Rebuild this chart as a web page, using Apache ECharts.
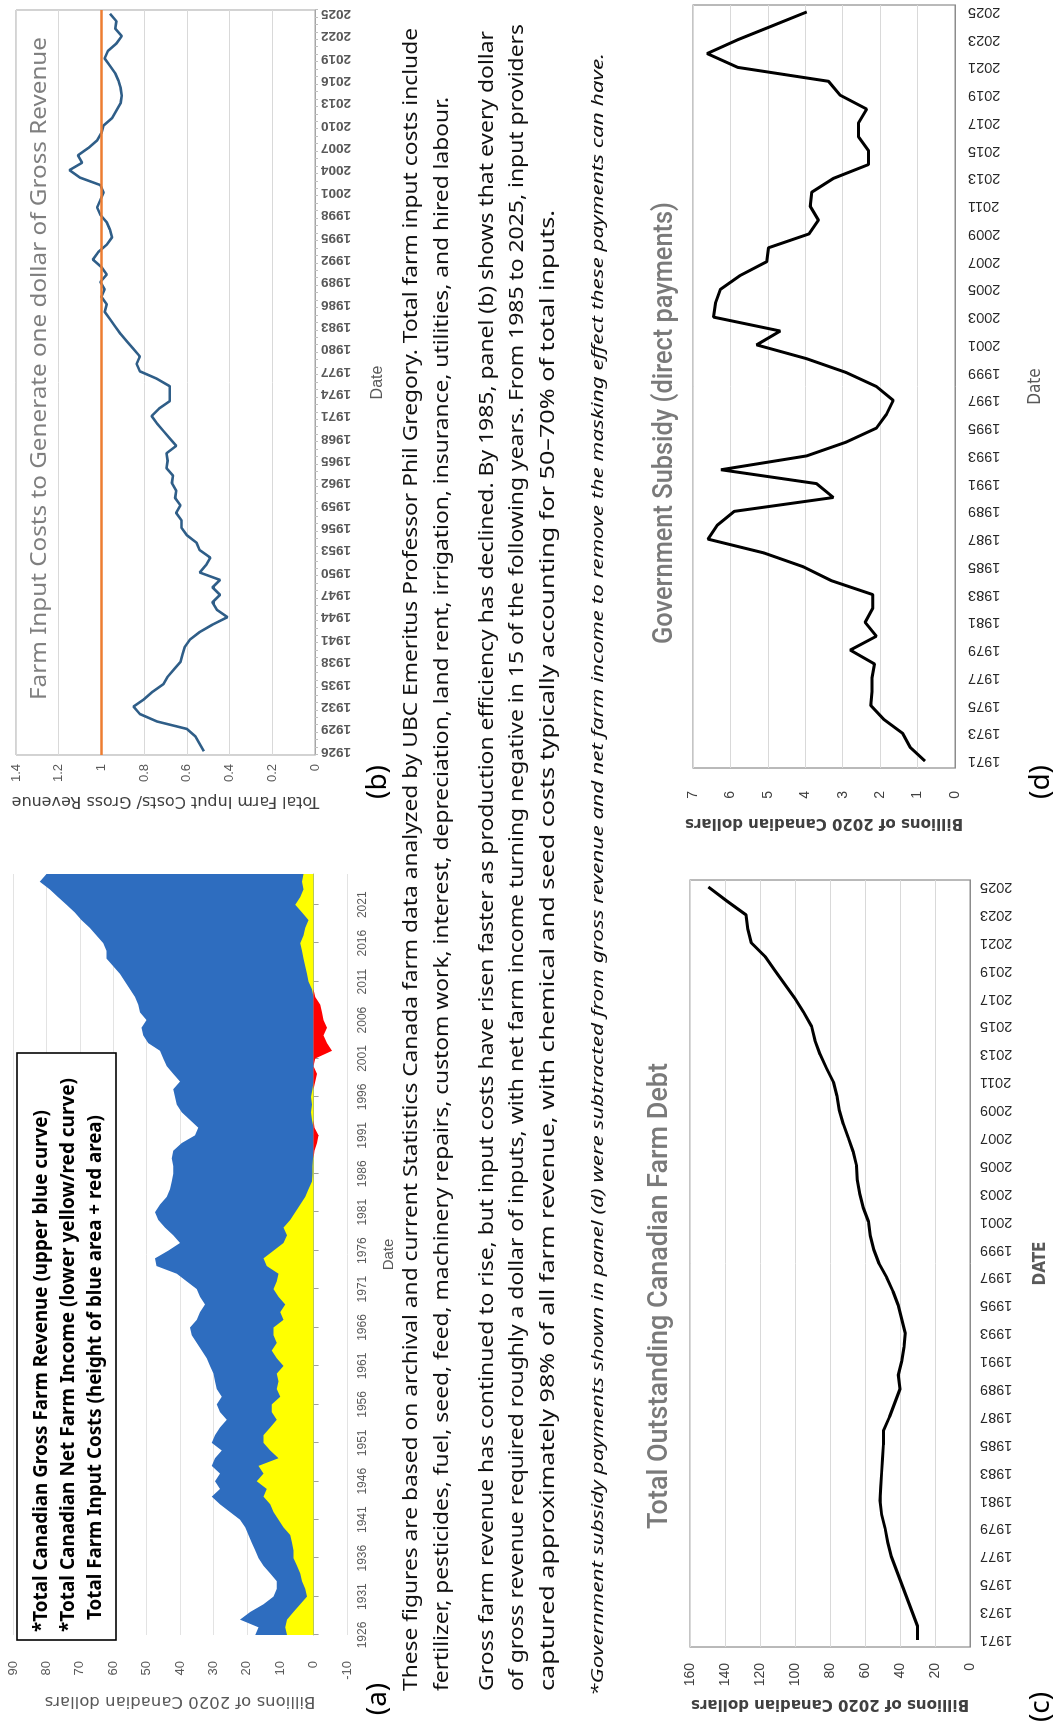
<!DOCTYPE html>
<html>
<head>
<meta charset="utf-8">
<script src="https://cdn.jsdelivr.net/npm/echarts/dist/echarts.min.js"></script>
<style>
  html, body { margin: 0; padding: 0; background: #fff; overflow: hidden; width: 1053px; height: 1732px; }
  /* The sheet is laid out in landscape and turned a quarter turn to fit the portrait page */
  #page { position: absolute; left: 0; top: 0; width: 1732px; height: 1053px;
          transform-origin: 0 0; transform: translate(0, 1732px) rotate(-90deg); background: #fff; }
  #chart { position: absolute; left: 0; top: 0; width: 1732px; height: 1053px; }
  #notes { position: absolute; left: 0; top: 0; width: 1732px; height: 1053px; pointer-events: none; }
</style>
</head>
<body>
<div id="page">
  <div id="chart"></div>
  <svg id="notes" xmlns="http://www.w3.org/2000/svg" width="1732" height="1053" viewBox="0 0 1732 1053">
    <!-- legend box of panel (a) -->
    <rect x="92" y="17" width="587" height="99" fill="#fff" stroke="#000" stroke-width="1.6"/>
    <g font-family="'Noto Sans', 'Open Sans', sans-serif" font-weight="bold" font-size="19" fill="#000">
      <text x="100" y="47" textLength="522" lengthAdjust="spacingAndGlyphs">*Total Canadian Gross Farm Revenue (upper blue curve)</text>
      <text x="100" y="74" textLength="554" lengthAdjust="spacingAndGlyphs">*Total Canadian Net Farm Income (lower yellow/red curve)</text>
      <text x="112" y="101" textLength="505" lengthAdjust="spacingAndGlyphs">Total Farm Input Costs (height of blue area + red area)</text>
    </g>

    <!-- panel letters -->
    <g font-family="'Noto Sans', sans-serif" font-size="28" fill="#000" text-anchor="middle">
      <text x="33" y="386">(a)</text>
      <text x="950" y="386">(b)</text>
      <text x="25" y="1049">(c)</text>
      <text x="950" y="1049">(d)</text>
    </g>

    <!-- panel titles -->
    <g font-family="'Noto Sans', sans-serif" fill="#7f7f7f">
      <text x="1032" y="46" font-size="22" textLength="663" lengthAdjust="spacingAndGlyphs">Farm Input Costs to Generate one dollar of Gross Revenue</text>
    </g>
    <g font-family="'Roboto', 'Noto Sans', sans-serif" font-weight="500" fill="#7a7a7a">
      <text x="203" y="667" font-size="27" textLength="466" lengthAdjust="spacingAndGlyphs">Total Outstanding Canadian Farm Debt</text>
      <text x="1088" y="672" font-size="27" textLength="442" lengthAdjust="spacingAndGlyphs">Government Subsidy (direct payments)</text>
    </g>

    <!-- explanatory notes -->
    <g font-family="'Noto Sans', 'Open Sans', sans-serif" font-size="19.5" fill="#111">
      <text x="41" y="417" textLength="1663" lengthAdjust="spacingAndGlyphs">These figures are based on archival and current Statistics Canada farm data analyzed by UBC Emeritus Professor Phil Gregory. Total farm input costs include</text>
      <text x="41" y="448" textLength="1594" lengthAdjust="spacingAndGlyphs">fertilizer, pesticides, fuel, seed, feed, machinery repairs, custom work, interest, depreciation, land rent, irrigation, insurance, utilities, and hired labour.</text>
      <text x="41" y="493" textLength="1660" lengthAdjust="spacingAndGlyphs">Gross farm revenue has continued to rise, but input costs have risen faster as production efficiency has declined. By 1985, panel (b) shows that every dollar</text>
      <text x="41" y="523" textLength="1667" lengthAdjust="spacingAndGlyphs">of gross revenue required roughly a dollar of inputs, with net farm income turning negative in 15 of the following years. From 1985 to 2025, input providers</text>
      <text x="41" y="554" textLength="1481" lengthAdjust="spacingAndGlyphs">captured approximately 98% of all farm revenue, with chemical and seed costs typically accounting for 50–70% of total inputs.</text>
      <text x="36" y="603" font-size="16.5" font-style="italic" textLength="1643" lengthAdjust="spacingAndGlyphs">*Government subsidy payments shown in panel (d) were subtracted from gross revenue and net farm income to remove the masking effect these payments can have.</text>
    </g>
  </svg>
</div>

<script>
// ---- Panel (a): Canadian gross farm revenue and net farm income, billions of 2020 CAD ----
const yearsA = [];
for (let y = 1926; y <= 2025; y++) yearsA.push(String(y));

const grossRevenue = [
  17.5, 16.5, 22, 19, 15, 12, 11, 11, 13, 15,            // 1926-1935
  16.5, 17.5, 18.5, 19.5, 20.5, 22, 25, 28, 30.5, 28,    // 1936-1945
  29.5, 28, 30.5, 29.5, 27.5, 30.5, 29.5, 28, 26, 28,    // 1946-1955
  29, 27.5, 29, 29.5, 30, 31, 32, 33.5, 35, 36.5,        // 1956-1965
  37, 35, 34, 32.5, 34, 35, 38, 41, 47, 47.5,            // 1966-1975
  43.5, 40, 42, 44.5, 46.5, 47.5, 46, 44, 43, 42.5,      // 1976-1985
  42, 42, 42.5, 42, 39.5, 35.5, 34.5, 37, 39.5, 41,      // 1986-1995
  41.5, 42, 40, 42, 44, 45, 46, 49.5, 51, 51.5,          // 1996-2005
  50, 52, 52.5, 53.5, 55, 56.5, 58, 60, 62, 62,          // 2006-2015
  63, 65, 67, 69.5, 71.5, 74, 76.5, 79, 82, 80           // 2016-2025
];

const netIncome = [
  8, 8.5, 8, 6, 4, 2, 2.5, 3.5, 4, 5,                    // 1926-1935
  6, 6, 6.5, 7, 9, 10.5, 12, 13, 15, 14,                 // 1936-1945
  17, 15, 16.5, 10.5, 13, 15, 15, 13, 11, 12.5,          // 1946-1955
  12.5, 10, 11, 10.5, 11, 9, 11, 12.5, 11, 12,           // 1956-1965
  12, 9, 10, 8.5, 10.5, 12, 11, 10.5, 14, 15,            // 1966-1975
  12, 9, 8, 9, 7, 5.5, 4, 2.5, 1.5, 0.5,                 // 1976-1985
  0.3, 0.3, 0.2, -0.3, -1, -1.5, -0.3, 0.5, 0.8, 0.5,    // 1986-1995
  0.8, 0.3, -0.5, -1, 0, -0.5, -5.5, -4, -3, -4,         // 1996-2005
  -3, -2.5, -2, -0.5, 0.5, 1.5, 2, 2.5, 3, 3.5,          // 2006-2015
  4, 3, 2.5, 1.5, 3.5, 5.5, 4, 3, 3.5, 3                 // 2016-2025
];

// ---- Panel (b): total farm input costs per dollar of gross revenue ----
const inputRatio = [
  0.52, 0.54, 0.56, 0.60, 0.74, 0.82, 0.85, 0.80, 0.76, 0.71,       // 1926-1935
  0.69, 0.66, 0.63, 0.62, 0.61, 0.585, 0.54, 0.48, 0.41, 0.46,      // 1936-1945
  0.48, 0.445, 0.48, 0.445, 0.54, 0.51, 0.49, 0.54, 0.555, 0.60,    // 1946-1955
  0.625, 0.625, 0.65, 0.63, 0.655, 0.65, 0.67, 0.665, 0.695, 0.69,  // 1956-1965
  0.695, 0.65, 0.68, 0.71, 0.74, 0.765, 0.73, 0.68, 0.68, 0.68,     // 1966-1975
  0.74, 0.82, 0.835, 0.82, 0.85, 0.88, 0.91, 0.935, 0.96, 0.985,    // 1976-1985
  0.975, 1.0, 0.985, 1.005, 0.975, 1.0, 1.04, 1.015, 0.975, 0.95,   // 1986-1995
  0.96, 0.975, 1.005, 1.02, 1.005, 0.99, 1.005, 1.10, 1.15, 1.09,   // 1996-2005
  1.11, 1.06, 1.02, 1.0, 0.99, 0.95, 0.93, 0.91, 0.905, 0.91,       // 2006-2015
  0.92, 0.935, 0.96, 0.985, 0.97, 0.93, 0.905, 0.935, 0.93, 0.96    // 2016-2025
];
const breakEven = 1;

// ---- Panels (c) and (d): 1971-2025 ----
const yearsCD = [];
for (let y = 1971; y <= 2025; y++) yearsCD.push(String(y));

const farmDebt = [
  30, 30, 33, 36, 39, 42, 45, 47, 48.5, 50.5,             // 1971-1980
  51.4, 51, 50.5, 50, 49.5, 49.5, 46, 43, 40, 41,         // 1981-1990
  39, 37.7, 37, 39, 41, 44, 47.6, 52, 55, 57,             // 1991-2000
  58, 61, 63, 64.4, 64.8, 66.7, 69.5, 72.4, 74.7, 76,     // 2001-2010
  78, 82, 85.7, 88.6, 90.5, 95, 100, 105.7, 111.4, 117,   // 2011-2020
  125, 127, 128, 139, 149.5                               // 2021-2025
];

const subsidy = [
  0.8, 1.2, 1.4, 1.9, 2.25, 2.22, 2.22, 2.15, 2.8, 2.1,   // 1971-1980
  2.4, 2.2, 2.2, 3.3, 4.05, 5.1, 6.6, 6.35, 5.9, 3.25,    // 1981-1990
  3.7, 6.25, 3.96, 2.9, 2.1, 1.83, 1.65, 2.1, 2.9, 3.96,  // 1991-2000
  5.3, 4.67, 6.45, 6.4, 6.27, 5.74, 5.03, 4.98, 3.9, 3.65,// 2001-2010
  3.87, 3.83, 3.25, 2.31, 2.31, 2.58, 2.58, 2.36, 3.07, 3.38, // 2011-2020
  5.8, 6.62, 5.8, 4.88, 3.96                              // 2021-2025
];

// ---- chart ----
const FONT = "'Liberation Sans', Arial, sans-serif";
const WIDE = "'DejaVu Sans', Verdana, sans-serif";
const chart = echarts.init(document.getElementById('chart'), null, { renderer: 'canvas' });

const catAxisCommon = { type: 'category', splitLine: { show: false } };

const option = {
  animation: false,
  textStyle: { fontFamily: FONT },
  grid: [
    { left: 97,  top: 13,  width: 761, height: 334 },
    { left: 977, top: 16,  width: 745, height: 299, show: true, borderColor: '#a6a6a6', borderWidth: 1 },
    { left: 85,  top: 690, width: 767, height: 280, show: true, borderColor: '#8c8c8c', borderWidth: 1.2 },
    { left: 964, top: 693, width: 763, height: 262, show: true, borderColor: '#8c8c8c', borderWidth: 1.2 }
  ],
  xAxis: [
    // (a) axis line with ticks at zero
    Object.assign({}, catAxisCommon, {
      gridIndex: 0, data: yearsA, boundaryGap: false,
      axisLine: { onZero: true, lineStyle: { color: '#b0b0b0', width: 1 } },
      axisTick: { show: true, interval: 4, length: 5, lineStyle: { color: '#a0a0a0' } },
      axisLabel: { show: false }
    }),
    // (a) year labels along the bottom of the plot
    Object.assign({}, catAxisCommon, {
      gridIndex: 0, data: yearsA, boundaryGap: false, position: 'bottom',
      axisLine: { show: false, onZero: false }, axisTick: { show: false },
      axisLabel: { interval: 4, fontSize: 12, color: '#595959', margin: 10 },
      name: 'Date', nameLocation: 'middle', nameGap: 34,
      nameTextStyle: { fontSize: 15, color: '#595959' }
    }),
    // (b)
    Object.assign({}, catAxisCommon, {
      gridIndex: 1, data: yearsA, boundaryGap: true,
      axisLine: { lineStyle: { color: '#a6a6a6' } },
      axisTick: { show: true, interval: 0, length: 3, lineStyle: { color: '#bfbfbf' } },
      axisLabel: { interval: 2, rotate: 90, fontSize: 13.5, color: '#595959', margin: 6, fontWeight: 'bold' },
      name: 'Date', nameLocation: 'middle', nameGap: 55,
      nameTextStyle: { fontSize: 16, color: '#595959' }
    }),
    // (c)
    Object.assign({}, catAxisCommon, {
      gridIndex: 2, data: yearsCD, boundaryGap: true,
      axisLine: { lineStyle: { color: '#8c8c8c' } },
      axisTick: { show: false },
      axisLabel: { interval: 1, rotate: 90, fontSize: 14.5, color: '#262626', margin: 10 },
      name: 'DATE', nameLocation: 'middle', nameGap: 62,
      nameTextStyle: { fontSize: 17, color: '#595959', fontWeight: 'bold', fontFamily: "'DejaVu Sans Condensed', " + FONT }
    }),
    // (d)
    Object.assign({}, catAxisCommon, {
      gridIndex: 3, data: yearsCD, boundaryGap: true,
      axisLine: { lineStyle: { color: '#8c8c8c' } },
      axisTick: { show: false },
      axisLabel: { interval: 1, rotate: 90, fontSize: 14.5, color: '#262626', margin: 13 },
      name: 'Date', nameLocation: 'middle', nameGap: 72,
      nameTextStyle: { fontSize: 17, color: '#595959', fontFamily: "'DejaVu Sans Condensed', " + FONT }
    })
  ],
  yAxis: [
    {
      gridIndex: 0, type: 'value', min: -10, max: 90, interval: 10,
      axisLine: { show: false }, axisTick: { show: false },
      axisLabel: { fontSize: 13, color: '#595959', margin: 26 },
      splitLine: { lineStyle: { color: '#e3e3e3' } },
      name: 'Billions of 2020 Canadian dollars', nameLocation: 'middle', nameGap: 58,
      nameTextStyle: { fontSize: 16.5, color: '#595959', fontFamily: WIDE }
    },
    {
      gridIndex: 1, type: 'value', min: 0, max: 1.4, interval: 0.2,
      axisLine: { show: false }, axisTick: { show: false },
      axisLabel: { fontSize: 13, color: '#595959', margin: 9 },
      splitLine: { lineStyle: { color: '#d9d9d9' } },
      name: 'Total Farm Input Costs/ Gross Revenue', nameLocation: 'middle', nameGap: 38,
      nameTextStyle: { fontSize: 16, color: '#404040', fontFamily: WIDE }
    },
    {
      gridIndex: 2, type: 'value', min: 0, max: 160, interval: 20,
      axisLine: { show: false }, axisTick: { show: false },
      axisLabel: { fontSize: 14, color: '#404040', margin: 16 },
      splitLine: { lineStyle: { color: '#d9d9d9' } },
      name: 'Billions of 2020 Canadian dollars', nameLocation: 'middle', nameGap: 49,
      nameTextStyle: { fontSize: 15, color: '#404040', fontWeight: 'bold', fontFamily: WIDE }
    },
    {
      gridIndex: 3, type: 'value', min: 0, max: 7, interval: 1,
      axisLine: { show: false }, axisTick: { show: false },
      axisLabel: { fontSize: 14, color: '#404040', margin: 23 },
      splitLine: { lineStyle: { color: '#d9d9d9' } },
      name: 'Billions of 2020 Canadian dollars', nameLocation: 'middle', nameGap: 47,
      nameTextStyle: { fontSize: 15, color: '#404040', fontWeight: 'bold', fontFamily: WIDE }
    }
  ],
  series: [
    // gross revenue: blue fill from zero up to the revenue curve
    {
      name: 'Gross Farm Revenue', type: 'line', xAxisIndex: 0, yAxisIndex: 0,
      data: grossRevenue, symbol: 'none', lineStyle: { width: 0 },
      areaStyle: { color: '#2E6DBF', opacity: 1 }, z: 2
    },
    // positive net income: yellow band from zero
    {
      name: 'Net Farm Income (positive)', type: 'line', xAxisIndex: 0, yAxisIndex: 0,
      data: netIncome.map(v => Math.max(v, 0)), symbol: 'none', lineStyle: { width: 0 },
      areaStyle: { color: '#FFFF00', opacity: 1 }, z: 3
    },
    // negative net income: red band below zero
    {
      name: 'Net Farm Income (negative)', type: 'line', xAxisIndex: 0, yAxisIndex: 0,
      data: netIncome.map(v => Math.min(v, 0)), symbol: 'none', lineStyle: { width: 0 },
      areaStyle: { color: '#FF0000', opacity: 1 }, z: 3
    },
    // (b) input cost per revenue dollar, with the break-even line
    {
      name: 'Input cost ratio', type: 'line', xAxisIndex: 2, yAxisIndex: 1,
      data: inputRatio, symbol: 'none',
      lineStyle: { color: '#2F5E88', width: 2.6 }, z: 3,
      markLine: {
        silent: true, symbol: 'none', label: { show: false },
        lineStyle: { color: '#ED7D31', width: 2.6, type: 'solid' },
        data: [{ yAxis: breakEven }]
      }
    },
    // (c) farm debt
    {
      name: 'Farm debt', type: 'line', xAxisIndex: 3, yAxisIndex: 2,
      data: farmDebt, symbol: 'none', lineStyle: { color: '#000', width: 3 }
    },
    // (d) direct payments
    {
      name: 'Government subsidy', type: 'line', xAxisIndex: 4, yAxisIndex: 3,
      data: subsidy, symbol: 'none', lineStyle: { color: '#000', width: 3 }
    }
  ]
};

chart.setOption(option);
</script>
</body>
</html>
